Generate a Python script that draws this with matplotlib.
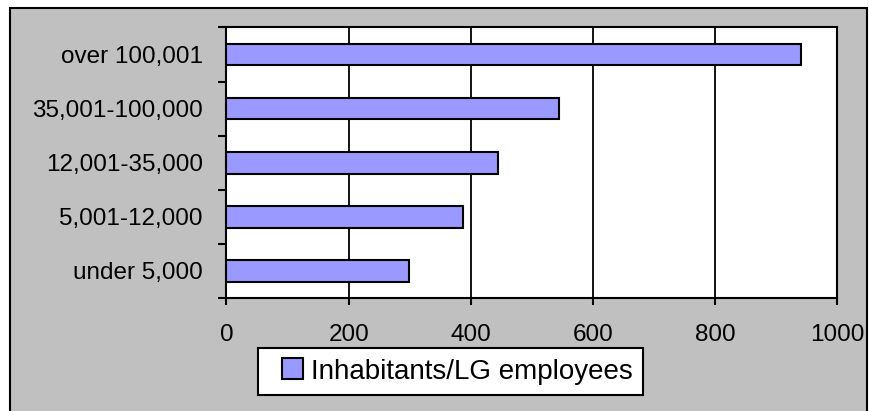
import matplotlib.pyplot as plt
from matplotlib.patches import Rectangle
from matplotlib.legend_handler import HandlerPatch
import numpy as np

plt.rcParams['font.family'] = ['Liberation Sans', 'DejaVu Sans']

# size classes of municipalities, bottom to top
categories = ['under 5,000', '5,001-12,000', '12,001-35,000',
              '35,001-100,000', 'over 100,001']
values = [298, 387, 445, 545, 941]
series_name = 'Inhabitants/LG employees'
x_ticks = [0, 200, 400, 600, 800, 1000]

bar_color = '#9999FF'
bg_gray = '#C0C0C0'

fig = plt.figure(figsize=(8.69, 4.11), dpi=100, facecolor='white')

# grey chart area with black frame (cut off at the bottom)
frame = Rectangle((0.0115, -0.05), 0.9862, 1.0305, transform=fig.transFigure,
                  facecolor=bg_gray, edgecolor='black', linewidth=1.5, zorder=-10)
fig.patches.append(frame)

ax = fig.add_axes([0.2606, 0.2749, 0.7030, 0.6582])
ax.set_facecolor('white')

y = np.arange(len(categories))
bars = ax.barh(y, values, height=0.4, color=bar_color, edgecolor='black',
               linewidth=1.5, label=series_name, zorder=3)

ax.set_xlim(0, 1000)
ax.set_ylim(-0.5, len(categories) - 0.5)

# category labels between the boundary ticks
ax.set_yticks(np.arange(-0.5, len(categories), 1.0))
ax.set_yticklabels([])
ax.set_yticks(y, minor=True)
ax.set_yticklabels(categories, minor=True)
ax.tick_params(axis='y', which='major', direction='out', length=6, width=1.5)
ax.tick_params(axis='y', which='minor', length=0, pad=17, labelsize=17.5)

ax.set_xticks(x_ticks)
ax.set_xticklabels([str(t) for t in x_ticks])
ax.tick_params(axis='x', direction='out', length=5, width=1.5, pad=14,
               labelsize=17.5)

ax.xaxis.grid(True, color='black', linewidth=1.3)
ax.set_axisbelow(True)
for s in ax.spines.values():
    s.set_color('black')
    s.set_linewidth(1.5)


# square legend key pushed to the right of its slot (extra left padding)
def square_key(legend, orig_handle, xdescent, ydescent, width, height, fontsize):
    h = 0.75 * fontsize
    return Rectangle((-xdescent + width - h, -ydescent + (height - h) / 2), h, h)


key = bars.patches[0]
leg = fig.legend(handles=[key], labels=[series_name], loc='center',
                 bbox_to_anchor=(0.5184, 0.0961), fontsize=20,
                 frameon=True, fancybox=False, shadow=False,
                 handlelength=1.25, handleheight=0.75, handletextpad=0.3,
                 borderpad=0.38, borderaxespad=0,
                 handler_map={key: HandlerPatch(patch_func=square_key)})
leg.get_frame().set_edgecolor('black')
leg.get_frame().set_linewidth(1.5)
leg.get_frame().set_facecolor('white')
leg.get_frame().set_alpha(1)

fig.savefig('out.png', dpi=100, facecolor=fig.get_facecolor())
